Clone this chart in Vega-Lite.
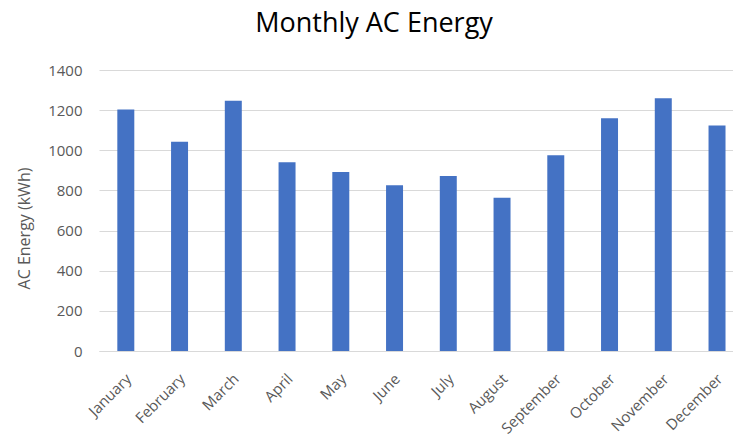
{
  "$schema": "https://vega.github.io/schema/vega-lite/v6.json",
  "width": 634,
  "height": 281,
  "autosize": {"type": "none"},
  "padding": {"left": 99, "top": 70, "right": 0, "bottom": 87},
  "background": "white",
  "title": {
    "text": "Monthly AC Energy",
    "font": "Open Sans",
    "fontSize": 27,
    "fontWeight": "normal",
    "color": "#000000",
    "anchor": "middle",
    "dx": -42,
    "baseline": "alphabetic",
    "offset": 4
  },
  "data": {
    "values": [
      {"month": "January", "energy": 1203},
      {"month": "February", "energy": 1043},
      {"month": "March", "energy": 1247},
      {"month": "April", "energy": 940},
      {"month": "May", "energy": 892},
      {"month": "June", "energy": 826},
      {"month": "July", "energy": 872},
      {"month": "August", "energy": 764},
      {"month": "September", "energy": 975},
      {"month": "October", "energy": 1159},
      {"month": "November", "energy": 1259},
      {"month": "December", "energy": 1124}
    ]
  },
  "mark": {"type": "bar", "color": "#4472C4"},
  "encoding": {
    "x": {
      "field": "month",
      "type": "nominal",
      "sort": null,
      "scale": {"paddingInner": 0.684, "paddingOuter": 0.24, "align": 0.71},
      "axis": {
        "title": null,
        "labelAngle": -45,
        "labelAlign": "right",
        "labelBaseline": "middle",
        "labelFont": "Open Sans",
        "labelFontSize": 15,
        "labelColor": "#595959",
        "labelPadding": 25,
        "labelOffset": 3,
        "ticks": false,
        "domainColor": "#D9D9D9",
        "grid": false
      }
    },
    "y": {
      "field": "energy",
      "type": "quantitative",
      "scale": {"domain": [0, 1400], "nice": false},
      "axis": {
        "values": [0, 200, 400, 600, 800, 1000, 1200, 1400],
        "format": "d",
        "title": "AC Energy (kWh)",
        "titleFont": "Open Sans",
        "titleFontSize": 16,
        "titleFontWeight": "normal",
        "titleColor": "#595959",
        "titleAngle": -90,
        "titleX": -75,
        "titleY": 158,
        "titleAlign": "center",
        "titleBaseline": "middle",
        "labelFont": "Open Sans",
        "labelFontSize": 15,
        "labelColor": "#595959",
        "labelPadding": 17,
        "ticks": false,
        "domain": false,
        "grid": true,
        "gridColor": "#D9D9D9",
        "gridWidth": 1
      }
    }
  },
  "config": {"view": {"stroke": null}}
}
